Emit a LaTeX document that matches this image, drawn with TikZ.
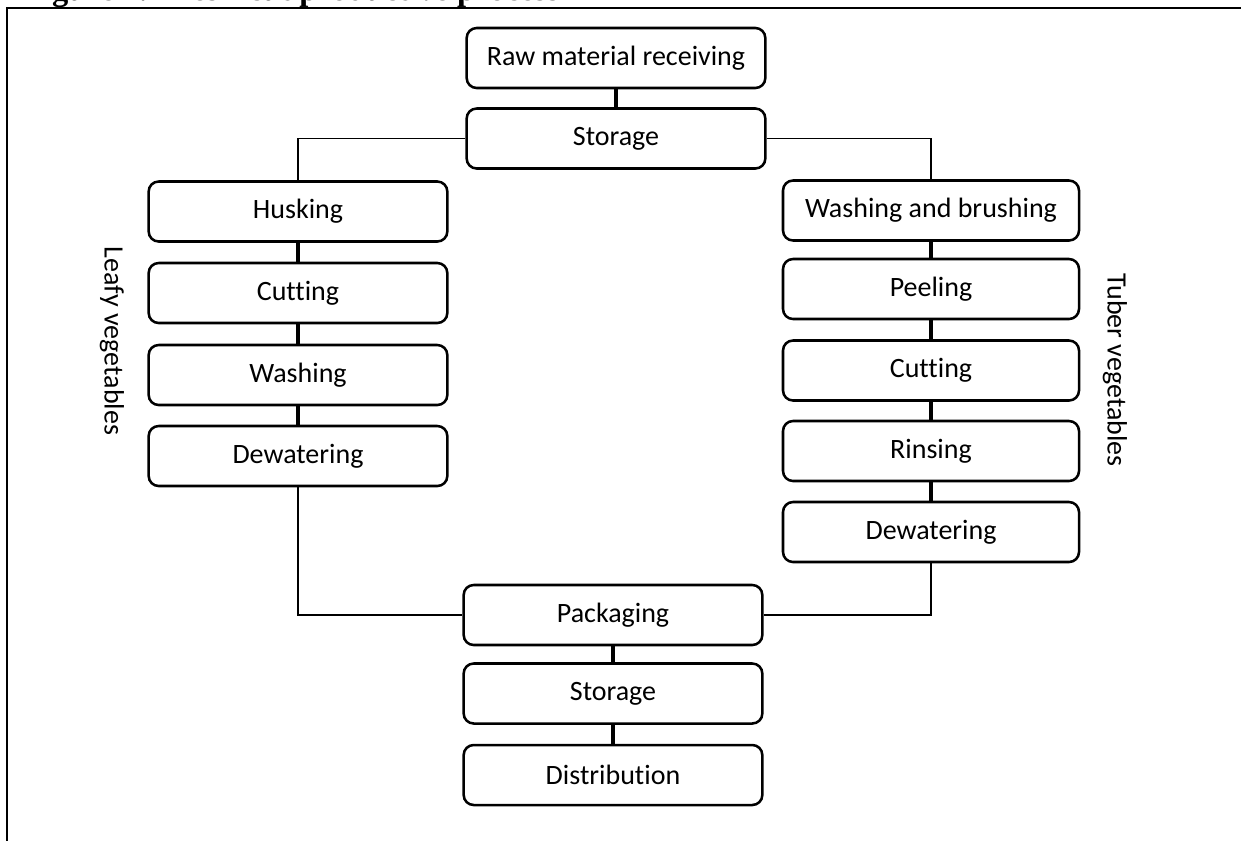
\documentclass[tikz,border=0pt]{standalone}
\usepackage{fontspec}
\setmainfont{Carlito}[Ligatures={NoCommon}]
\newfontfamily\titlefont{Liberation Serif}
\tikzset{
  stepbox/.style={draw, line width=1.9pt, rounded corners=7.5pt, minimum width=224pt, minimum height=45pt, inner sep=0pt, font=\fontsize{21}{25}\selectfont},
  sidelabel/.style={rotate=-90, inner sep=0.75pt, font=\fontsize{21}{25}\selectfont},
  link/.style={line width=2.6pt},
  route/.style={line width=1.3pt},
}
\begin{document}
\begin{tikzpicture}[x=0.75pt,y=0.75pt,yscale=-1,xscale=1]
\useasboundingbox (0,0) rectangle (1241,840);
\clip (0,0) rectangle (1241,840);

% Title Node (cut by the page edge)
\node (title) [anchor=base west, inner sep=0pt, font=\titlefont\bfseries\fontsize{24.4}{29}\selectfont] at (23,0) {Figure 1. Fresh-cut productive process};
%Frame
\draw [line width=2.2pt] (1260,8) -- (7,8) -- (7,860) ;

%Shape: Rounded Rect (top)
\node (raw) [stepbox] at (616,58) {Raw material receiving};
\node (stor1) [stepbox] at (616,138.5) {Storage};
%Shape: Rounded Rect (leafy)
\node (husk) [stepbox] at (298,211.5) {Husking};
\node (lcut) [stepbox] at (298,293) {Cutting};
\node (lwash) [stepbox] at (298,375) {Washing};
\node (ldew) [stepbox] at (298,456) {Dewatering};
%Shape: Rounded Rect (tuber)
\node (wab) [stepbox, minimum width=222pt] at (931,210.5) {Washing and brushing};
\node (peel) [stepbox, minimum width=222pt] at (931,289) {Peeling};
\node (rcut) [stepbox, minimum width=222pt] at (931,370.5) {Cutting};
\node (rinse) [stepbox, minimum width=222pt] at (931,451) {Rinsing};
\node (rdew) [stepbox, minimum width=222pt] at (931,532) {Dewatering};
%Shape: Rounded Rect (bottom)
\node (pack) [stepbox] at (613,615) {Packaging};
\node (stor2) [stepbox] at (613,693.5) {Storage};
\node (dist) [stepbox] at (613,775) {Distribution};

% Text Node
\node (leafy) [sidelabel] at (112,341) {Leafy vegetables};
% Text Node
\node (tuber) [sidelabel] at (1115,370) {Tuber vegetables};

%Straight Lines
\draw [link] (raw) -- (stor1) ;
\draw [link] (husk) -- (lcut) -- (lwash) -- (ldew) ;
\draw [link] (wab) -- (peel) -- (rcut) -- (rinse) -- (rdew) ;
\draw [link] (pack) -- (stor2) -- (dist) ;
%Straight Lines (branches)
\draw [route] (stor1.west) -| (husk.north) ;
\draw [route] (stor1.east) -| (wab.north) ;
\draw [route] (ldew.south) |- (pack.west) ;
\draw [route] (rdew.south) |- (pack.east) ;

\end{tikzpicture}
\end{document}
